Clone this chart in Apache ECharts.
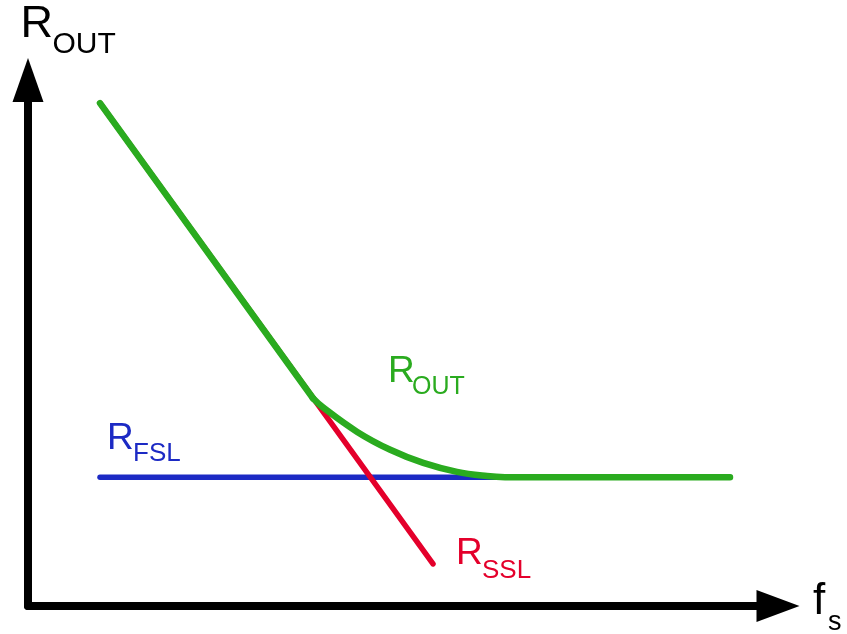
<!DOCTYPE html>
<html>
<head>
<meta charset="utf-8">
<script src="https://cdn.jsdelivr.net/npm/echarts@6/dist/echarts.min.js"></script>
<style>
  html, body { margin: 0; padding: 0; background: #fff; }
  #chart { width: 847px; height: 634px; }
</style>
</head>
<body>
<div id="chart"></div>
<script>
// Output resistance vs. switching frequency (conceptual, no tick values)
// Slow-switching limit: falls linearly with frequency
const sslPoints = [[9.6, 95.6], [54.0, 8.0]];
// Fast-switching limit: flat
const fslPoints = [[9.6, 24.5], [93.6, 24.5]];
// Total output resistance: follows SSL, then bends onto FSL
const outStraight = [[9.6, 95.6], [38.0, 39.5]];
const outBend = [[38.0, 39.5], [39.3, 37.8], [43.9, 33.1], [48.3, 29.7], [52.7, 27.2],
                 [57.2, 25.5], [61.2, 24.7], [63.6, 24.5], [93.6, 24.5]];

const GREEN = '#2aab1f';
const RED = '#e4002b';
const BLUE = '#1c2ac4';
const FONT = '"Liberation Sans", Arial, Helvetica, sans-serif';

const chart = echarts.init(document.getElementById('chart'), null, { renderer: 'canvas' });

function lbl(text, x, baseline, size, color) {
  return {
    type: 'text',
    x: x,
    y: baseline - 0.3465 * size,
    silent: true,
    style: {
      text: text,
      font: size + 'px ' + FONT,
      fill: color,
      verticalAlign: 'middle',
      align: 'left'
    }
  };
}

const axisCommon = {
  type: 'value',
  min: 0,
  max: 100,
  splitLine: { show: false },
  axisTick: { show: false },
  axisLabel: { show: false }
};

chart.setOption({
  animation: false,
  backgroundColor: '#fff',
  grid: { left: 28, right: 69, top: 80, bottom: 28 },
  xAxis: Object.assign({}, axisCommon, {
    axisLine: {
      show: true, onZero: false,
      symbol: ['none', 'triangle'],
      symbolSize: [32, 43],
      lineStyle: { color: '#000', width: 8, cap: 'round' }
    }
  }),
  yAxis: Object.assign({}, axisCommon, {
    axisLine: {
      show: true, onZero: false,
      symbol: ['none', 'triangle'],
      symbolSize: [31, 44],
      lineStyle: { color: '#000', width: 8, cap: 'round' }
    }
  }),
  series: [
    { type: 'line', data: fslPoints, showSymbol: false, silent: true,
      lineStyle: { color: BLUE, width: 5.5, cap: 'round' } },
    { type: 'line', data: sslPoints, showSymbol: false, silent: true,
      lineStyle: { color: RED, width: 5.5, cap: 'round' } },
    { type: 'line', data: outStraight, showSymbol: false, silent: true,
      lineStyle: { color: GREEN, width: 6.5, cap: 'round' } },
    { type: 'line', data: outBend, showSymbol: false, silent: true, smooth: 0.4,
      lineStyle: { color: GREEN, width: 6.5, cap: 'round', join: 'round' } }
  ],
  graphic: [
    lbl('R', 20.5, 40, 45, '#000'),
    lbl('OUT', 52.5, 55, 30, '#000'),
    lbl('R', 388, 385, 37, GREEN),
    lbl('OUT', 412, 396, 25, GREEN),
    lbl('R', 107, 452, 37, BLUE),
    lbl('FSL', 133, 463, 26, BLUE),
    lbl('R', 456, 567, 37, RED),
    lbl('SSL', 482, 580, 26, RED),
    lbl('f', 813, 617, 44, '#000'),
    lbl('s', 828, 632, 27, '#000')
  ]
});
</script>
</body>
</html>
